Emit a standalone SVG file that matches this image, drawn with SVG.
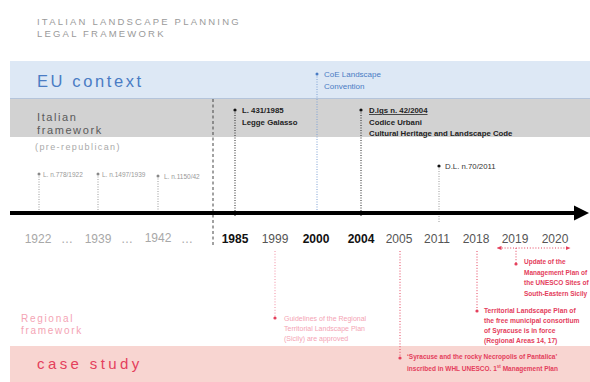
<svg xmlns="http://www.w3.org/2000/svg" width="590" height="382" viewBox="0 0 590 382">
<defs>
<style>
text{font-family:"Liberation Sans",Arial,sans-serif}
.title{font-size:9.5px;fill:#9a9a9a;letter-spacing:2.2px}
.yr{font-size:12px;fill:#555;text-anchor:middle}
.yrg{font-size:12px;fill:#a8a8a8;text-anchor:middle}
.yrb{font-size:12px;fill:#111;font-weight:bold;text-anchor:middle}
.old{font-size:6.5px;fill:#999}
.law{font-size:7.8px;fill:#222;font-weight:bold}
.lawn{font-size:7.8px;fill:#333}
.eu{font-size:8px;fill:#4a7cc4}
.pl{font-size:7px;fill:#f4a4b4}
.pd{font-size:6.5px;fill:#e4405c;font-weight:bold}
.pd2{font-size:6.7px;fill:#e4405c;font-weight:bold}
.pd3{font-size:6.5px;fill:#e4405c;font-weight:bold}
.dk{stroke:#222;stroke-width:1;stroke-dasharray:1 1.5;fill:none}
.gr{stroke:#999;stroke-width:1;stroke-dasharray:1 1.5;fill:none}
.bl{stroke:#7da0d4;stroke-width:1;stroke-dasharray:1 1.5;fill:none}
.pk{stroke:#e4405c;stroke-width:1;stroke-dasharray:1 1.8;fill:none}
.pkl{stroke:#f08ca0;stroke-width:1;stroke-dasharray:1 1.8;fill:none}
</style>
<marker id="pa" viewBox="0 0 6 6" refX="3" refY="3" markerWidth="5" markerHeight="5" orient="auto-start-reverse">
<path d="M0,0.5 L6,3 L0,5.5 z" fill="#e4405c"/>
</marker>
</defs>
<rect width="590" height="382" fill="#fff"/>

<g id="title">
<text class="title" x="37" y="25">ITALIAN LANDSCAPE PLANNING</text>
<text class="title" x="37" y="37">LEGAL FRAMEWORK</text>
</g>

<g id="eu-band">
<rect x="10" y="61" width="580" height="38" fill="#dde8f5"/>
<line x1="10" y1="98.5" x2="590" y2="98.5" stroke="#b4c4da" stroke-width="1"/>
<text x="37" y="87" font-size="16.5" fill="#4a7cc4" letter-spacing="2.6">EU context</text>
</g>

<g id="italian-band">
<rect x="10" y="99" width="580" height="38" fill="#d2d2d2"/>
<text x="37" y="121" font-size="11" fill="#5a5a5a" letter-spacing="1.6">Italian</text>
<text x="37" y="134" font-size="11" fill="#5a5a5a" letter-spacing="1.6">framework</text>
<text x="35" y="150" font-size="9" fill="#aaa" letter-spacing="1.4">(pre-republican)</text>
</g>

<g id="case-band">
<rect x="10" y="346" width="580" height="36" fill="#f8d5d1"/>
<text x="37" y="369" font-size="15" fill="#e4405c" letter-spacing="3.4">case study</text>
</g>

<g id="regional-label">
<text x="21" y="322" font-size="10" fill="#f4a4b4" letter-spacing="1.7">Regional</text>
<text x="21" y="334" font-size="10" fill="#f4a4b4" letter-spacing="1.7">framework</text>
</g>

<g id="connectors">
<line x1="213" y1="99" x2="213" y2="246" stroke="#444" stroke-width="1" stroke-dasharray="3 2.5"/>
<line class="gr" x1="39" y1="174" x2="39" y2="212"/>
<line class="gr" x1="98" y1="174" x2="98" y2="212"/>
<line class="gr" x1="158" y1="176" x2="158" y2="212"/>
<line class="dk" x1="235" y1="110" x2="235" y2="216"/>
<line class="bl" x1="317" y1="74" x2="317" y2="216"/>
<line class="dk" x1="361" y1="110" x2="361" y2="216"/>
<line class="gr" x1="439" y1="166" x2="439" y2="222"/>
<line class="pkl" x1="275" y1="251" x2="275" y2="318"/>
<line class="pk" x1="400" y1="251" x2="400" y2="358"/>
<line class="pk" x1="477" y1="251" x2="477" y2="311"/>
<line class="pk" x1="499" y1="248" x2="568" y2="248" marker-start="url(#pa)" marker-end="url(#pa)"/>
<line class="pk" x1="516" y1="248" x2="516" y2="264"/>
</g>

<g id="timeline">
<line x1="10" y1="213" x2="576" y2="213" stroke="#000" stroke-width="4"/>
<path d="M574,205.5 L589,213 L574,220.5 z" fill="#000"/>
<text class="yrg" x="38" y="243">1922</text>
<text class="yrg" x="67" y="243">…</text>
<text class="yrg" x="98" y="243">1939</text>
<text class="yrg" x="127" y="243">…</text>
<text class="yrg" x="158" y="242">1942</text>
<text class="yrg" x="187" y="243">…</text>
<text class="yrb" x="235" y="243">1985</text>
<text class="yr" x="275" y="243">1999</text>
<text class="yrb" x="316" y="243">2000</text>
<text class="yrb" x="361" y="243">2004</text>
<text class="yr" x="399" y="243">2005</text>
<text class="yr" x="437" y="243">2011</text>
<text class="yr" x="476" y="243">2018</text>
<text class="yr" x="515" y="243">2019</text>
<text class="yr" x="555" y="243">2020</text>
</g>

<g id="n1922">
<circle cx="39" cy="174" r="1.5" fill="#888"/>
<text class="old" x="43" y="176.5">L. n.778/1922</text>
</g>
<g id="n1939">
<circle cx="98" cy="174" r="1.5" fill="#888"/>
<text class="old" x="102" y="176.5">L. n.1497/1939</text>
</g>
<g id="n1942">
<circle cx="158" cy="176" r="1.5" fill="#888"/>
<text class="old" x="164" y="178.5">L. n.1150/42</text>
</g>
<g id="n1985">
<circle cx="235" cy="110" r="1.6" fill="#111"/>
<text class="law" x="242" y="113">L. 431/1985</text>
<text class="law" x="242" y="125">Legge Galasso</text>
</g>
<g id="n2000">
<circle cx="317" cy="74" r="1.5" fill="#4a7cc4"/>
<text class="eu" x="324" y="77">CoE Landscape</text>
<text class="eu" x="324" y="89">Convention</text>
</g>
<g id="n2004">
<circle cx="361" cy="110" r="1.6" fill="#111"/>
<text class="law" x="369" y="113" text-decoration="underline">D.lgs n. 42/2004</text>
<text class="law" x="369" y="124.5">Codice Urbani</text>
<text class="law" x="369" y="136">Cultural Heritage and Landscape Code</text>
</g>
<g id="n2011">
<circle cx="439" cy="166" r="1.6" fill="#111"/>
<text class="lawn" x="445" y="169">D.L. n.70/2011</text>
</g>
<g id="n1999">
<circle cx="275" cy="318" r="1.6" fill="#e4405c"/>
<text class="pl" x="284" y="321">Guidelines of the Regional</text>
<text class="pl" x="284" y="331">Territorial Landscape Plan</text>
<text class="pl" x="284" y="341">(Sicily) are approved</text>
</g>
<g id="n2005">
<circle cx="400" cy="358" r="1.6" fill="#e4405c"/>
<text class="pd" x="407" y="359">‘Syracuse and the rocky Necropolis of Pantalica’</text>
<text class="pd" x="407" y="370.5">inscribed in WHL UNESCO. 1<tspan font-size="4.5" dy="-2.5">st</tspan><tspan dy="2.5"> Management Plan</tspan></text>
</g>
<g id="n2018">
<circle cx="477" cy="311" r="1.6" fill="#e4405c"/>
<text class="pd2" x="484" y="313">Territorial Landscape Plan of</text>
<text class="pd2" x="484" y="323">the free municipal consortium</text>
<text class="pd2" x="484" y="333">of Syracuse is in force</text>
<text class="pd2" x="484" y="343">(Regional Areas 14, 17)</text>
</g>
<g id="n2019">
<circle cx="516" cy="264" r="1.6" fill="#e4405c"/>
<text class="pd3" x="524" y="264">Update of the</text>
<text class="pd3" x="524" y="274.5">Management Plan of</text>
<text class="pd3" x="524" y="285">the UNESCO Sites of</text>
<text class="pd3" x="524" y="295.5">South-Eastern Sicily</text>
</g>
</svg>
